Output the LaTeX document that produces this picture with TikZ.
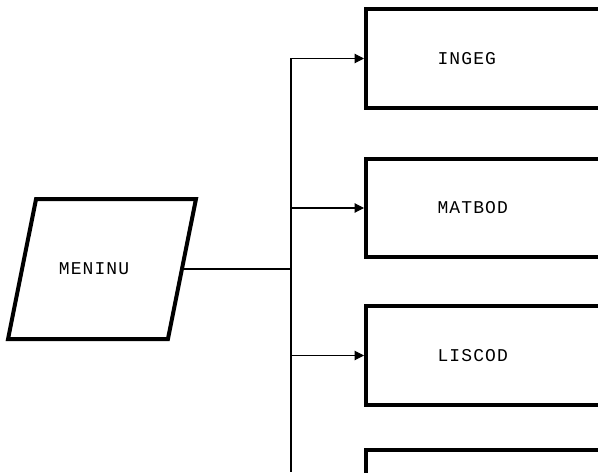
\documentclass[tikz,border=0pt]{standalone}
\usepackage{fontspec}
\newfontfamily\plotfont[LetterSpace=6]{Liberation Mono}
\usetikzlibrary{positioning,shapes.geometric,arrows.meta}
\tikzset{
  prog/.style={draw, line width=3pt, rectangle, minimum width=240pt, minimum height=74pt, anchor=west},
  io/.style={draw, line width=3pt, trapezium, trapezium left angle=78, trapezium right angle=102,
    trapezium stretches=true, minimum width=141pt, minimum height=105pt},
  lbl/.style={font=\plotfont\fontsize{13.5}{15}\selectfont, inner sep=0pt},
  link/.style={line width=0.8pt},
  call/.style={link, -{Triangle[length=7pt,width=7pt]}}
}
\begin{document}
\begin{tikzpicture}[x=0.75pt,y=0.75pt]
			\useasboundingbox (0,0) rectangle (598,472);
			\clip (0,0) rectangle (598,472);
			\node[io] (meninu) at (102,203) {};
			\node[lbl] at (94,203) {MENINU};
			\coordinate (fork) at (291,203);
			\coordinate (bottom) at (291,0);
			\node[prog] (ingeg) at (364,413.5) {};
			\node[prog] (matbod) at (364,264) {};
			\node[prog] (liscod) at (364,116.5) {};
			\node[prog] (next) at (364,-27.5) {};
			\node[lbl, right=55pt of ingeg.west] {INGEG};
			\node[lbl, right=55pt of matbod.west] {MATBOD};
			\node[lbl, right=55pt of liscod.west] {LISCOD};
			\draw[link] (meninu.east) -- (fork);
			\draw[link] (fork |- ingeg.west) -- (bottom);
			\draw[call] (fork |- ingeg.west) -- (ingeg.west);
			\draw[call] (fork |- matbod.west) -- (matbod.west);
			\draw[call] (fork |- liscod.west) -- (liscod.west);
\end{tikzpicture}
\end{document}
